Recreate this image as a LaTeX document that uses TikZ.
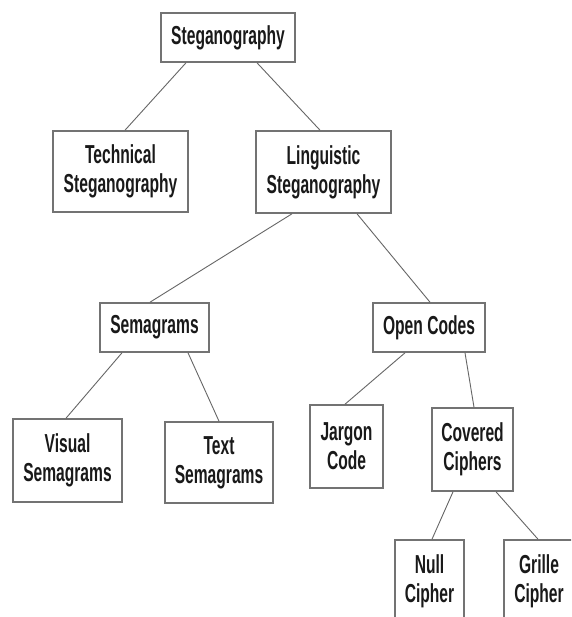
\documentclass[tikz,border=0pt]{standalone}
\usepackage{fontspec}
\newfontfamily\narrowfont[FakeStretch=0.6]{Liberation Sans Bold}
\usetikzlibrary{calc}
\tikzset{
  box/.style={draw=black!55, line width=1.6pt, fill=white, inner sep=0pt,
    align=center, font=\narrowfont\fontsize{26}{29}\selectfont, text=black!90},
  link/.style={draw=black!60, line width=0.9pt},
}
\begin{document}
\begin{tikzpicture}[x=1pt,y=-1pt]
\useasboundingbox[fill=white] (0,0) rectangle (571,617);
\begin{scope}
\clip (0,0) rectangle (571,617);
\node[box, minimum width=134pt, minimum height=49pt] (steg) at (228,37.5) {Steganography};
\node[box, minimum width=135pt, minimum height=81pt] (tech) at (120.5,171.5) {Technical\\Steganography};
\node[box, minimum width=135pt, minimum height=82pt] (ling) at (323.5,172) {Linguistic\\Steganography};
\node[box, minimum width=109pt, minimum height=49pt] (sema) at (154.5,327.5) {Semagrams};
\node[box, minimum width=112pt, minimum height=49pt] (open) at (429,327.5) {Open Codes};
\node[box, minimum width=109pt, minimum height=83pt] (vis) at (67.5,460.5) {Visual\\Semagrams};
\node[box, minimum width=108pt, minimum height=81pt] (text) at (219,462.5) {Text\\Semagrams};
\node[box, minimum width=73pt, minimum height=83pt] (jarg) at (346.5,446.5) {Jargon\\Code};
\node[box, minimum width=81pt, minimum height=83pt] (cov) at (472.5,449.5) {Covered\\Ciphers};
\node[box, minimum width=69pt, minimum height=83pt] (null) at (429.5,581.5) {Null\\Cipher};
\node[box, minimum width=70pt, minimum height=83pt] (grille) at (539,581.5) {Grille\\Cipher};
\draw[link] ([xshift=-42pt]steg.south) -- ([xshift=4.5pt]tech.north);
\draw[link] ([xshift=29pt]steg.south) -- ([xshift=-3.5pt]ling.north);
\draw[link] ([xshift=-31.5pt]ling.south) -- ([xshift=-4.5pt]sema.north);
\draw[link] ([xshift=33.5pt]ling.south) -- ([xshift=1pt]open.north);
\draw[link] ([xshift=-32.5pt]sema.south) -- ([xshift=-1.5pt]vis.north);
\draw[link] ([xshift=33.5pt]sema.south) -- (text.north);
\draw[link] ([xshift=-24pt]open.south) -- ([xshift=-1.5pt]jarg.north);
\draw[link] ([xshift=36pt]open.south) -- ([xshift=1.5pt]cov.north);
\draw[link] ([xshift=-19.5pt]cov.south) -- ([xshift=2.5pt]null.north);
\draw[link] ([xshift=23.5pt]cov.south) -- ([xshift=-1pt]grille.north);
\end{scope}
\end{tikzpicture}
\end{document}
